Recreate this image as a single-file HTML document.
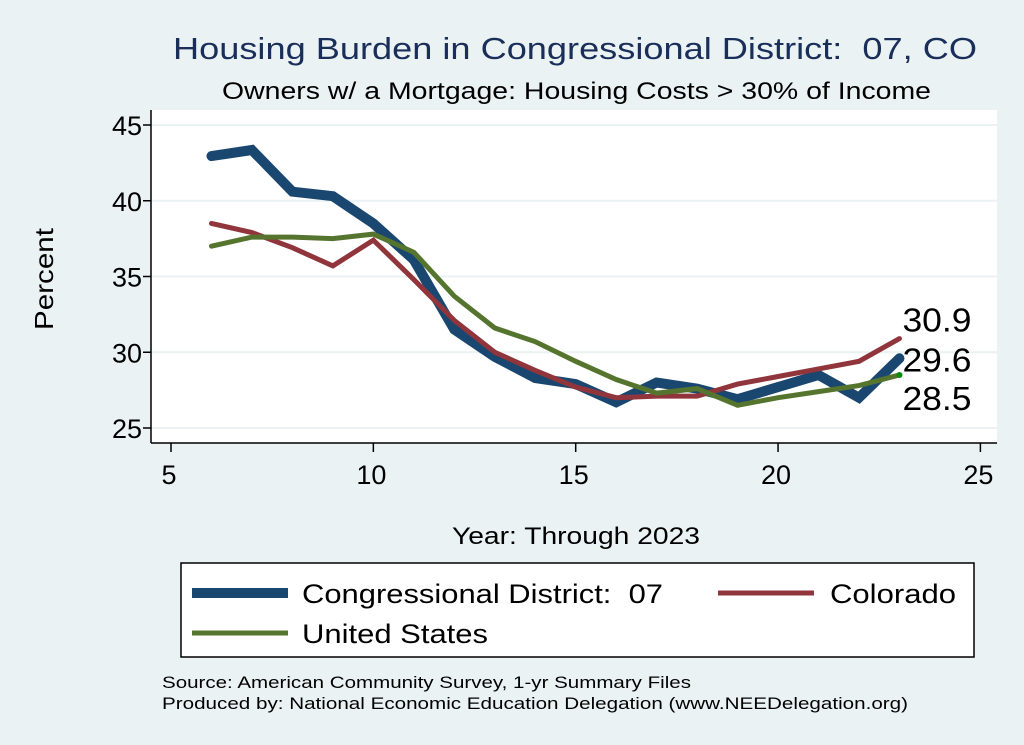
<!DOCTYPE html>
<html><head><meta charset="utf-8"><style>
body{margin:0;background:#eaf2f3;}
svg{display:block;font-family:"Liberation Sans",Arial,sans-serif;}
text{white-space:pre;}
</style></head><body>
<svg id="chart" width="1024" height="745" viewBox="0 0 1024 745">
<rect x="0" y="0" width="1024" height="745" fill="#eaf2f3"/>
<rect x="151" y="110" width="846" height="333" fill="#ffffff"/>
<text x="173" y="59" font-size="31" fill="#1a2e5a" textLength="804" lengthAdjust="spacingAndGlyphs">Housing Burden in Congressional District:  07, CO</text>
<text x="222" y="99" font-size="24" fill="#000" textLength="709" lengthAdjust="spacingAndGlyphs">Owners w/ a Mortgage: Housing Costs &gt; 30% of Income</text>
<text transform="translate(53,330) rotate(-90)" font-size="26" textLength="102" lengthAdjust="spacingAndGlyphs">Percent</text>
<text x="452" y="544" font-size="24" textLength="248" lengthAdjust="spacingAndGlyphs">Year: Through 2023</text>
<g id="grid"></g><g id="axes"></g><g id="series"></g><g id="labels"></g>
<rect x="181" y="563" width="793" height="94" fill="#fff" stroke="#000" stroke-width="1.5"/>
<g>
<line x1="192" y1="593" x2="288" y2="593" stroke="#1a476f" stroke-width="10"/>
<text x="302" y="603" font-size="27" textLength="361" lengthAdjust="spacingAndGlyphs">Congressional District:  07</text></g>
<g>
<line x1="718" y1="593" x2="814" y2="593" stroke="#90353b" stroke-width="5"/>
<text x="830" y="603" font-size="27" textLength="126" lengthAdjust="spacingAndGlyphs">Colorado</text></g>
<g>
<line x1="192" y1="633" x2="288" y2="633" stroke="#55752f" stroke-width="5"/>
<text x="302" y="643" font-size="27" textLength="186" lengthAdjust="spacingAndGlyphs">United States</text></g>
<text x="162" y="688" font-size="17" textLength="529" lengthAdjust="spacingAndGlyphs">Source: American Community Survey, 1-yr Summary Files</text>
<text x="162" y="709" font-size="17" textLength="746" lengthAdjust="spacingAndGlyphs">Produced by: National Economic Education Delegation (www.NEEDelegation.org)</text>
</svg>
<script>
const years=[6,7,8,9,10,11,12,13,14,15,16,17,18,19,20,21,22,23];
const district=[42.95,43.35,40.6,40.3,38.5,36.1,31.5,29.7,28.3,27.9,26.7,28.0,27.6,26.9,27.7,28.5,27.0,29.6];
const colorado=[38.5,37.9,36.9,35.7,37.4,34.8,32.1,30.0,28.8,27.7,27.0,27.1,27.1,27.9,28.4,28.9,29.4,30.9];
const unitedStates=[37.0,37.6,37.6,37.5,37.8,36.6,33.7,31.6,30.7,29.4,28.2,27.3,27.6,26.5,27.0,27.4,27.8,28.5];
const xTicks=[5,10,15,20,25];
const yTicks=[25,30,35,40,45];
const endLabels=["30.9","29.6","28.5"];
const NS="http://www.w3.org/2000/svg";
function X(v){return 171+(v-5)*40.47;}
function Y(v){return 428-(v-25)*15.15;}
function mk(tag,attrs,parent){const e=document.createElementNS(NS,tag);for(const k in attrs)e.setAttribute(k,attrs[k]);document.getElementById(parent).appendChild(e);return e;}
yTicks.forEach(t=>{
 const g=mk('line',{x1:151,x2:997,y1:Y(t),y2:Y(t),stroke:'#eaf2f3','stroke-width':2},'grid');
 
 
 const tk=mk('line',{x1:143,x2:151,y1:Y(t),y2:Y(t),stroke:'#000','stroke-width':1.5},'axes');
 
 
 const l=mk('text',{x:142,y:Y(t)+10,'text-anchor':'end','font-size':27},'axes');
 l.textContent=t;
 
 
});
xTicks.forEach(t=>{
 const tk=mk('line',{x1:X(t),x2:X(t),y1:443,y2:452,stroke:'#000','stroke-width':1.5},'axes');
 
 
 const l=mk('text',{x:X(t)-2,y:484,'text-anchor':'middle','font-size':27},'axes');
 l.textContent=t;
 
 
});
const ya=mk('line',{x1:151,x2:151,y1:110,y2:443,stroke:'#000','stroke-width':1.5},'axes');


const xa=mk('line',{x1:151,x2:997,y1:443,y2:443,stroke:'#000','stroke-width':1.5},'axes');


function line(vals,color,w,name){
 const p=mk('polyline',{points:years.map((y,i)=>X(y)+','+Y(vals[i])).join(' '),fill:'none',stroke:color,'stroke-width':w,'stroke-linejoin':'miter','stroke-linecap':'round'},'series');
 
 
}
line(district,'#1a476f',10,'line-district');
line(colorado,'#90353b',5,'line-colorado');
line(unitedStates,'#55752f',5,'line-united-states');
const dot=mk('circle',{cx:X(23),cy:Y(unitedStates[17]),r:3,fill:'#0a8a0a'},'series');


const lx=X(23)+3;
[[colorado,0,-7],[district,1,13],[unitedStates,2,35]].forEach(([s,i,dy])=>{
 const t=mk('text',{x:lx,y:Y(s[17])+dy,'font-size':33,textLength:69,lengthAdjust:'spacingAndGlyphs'},'labels');
 t.textContent=endLabels[i];
 
 
});
</script>
</body></html>
